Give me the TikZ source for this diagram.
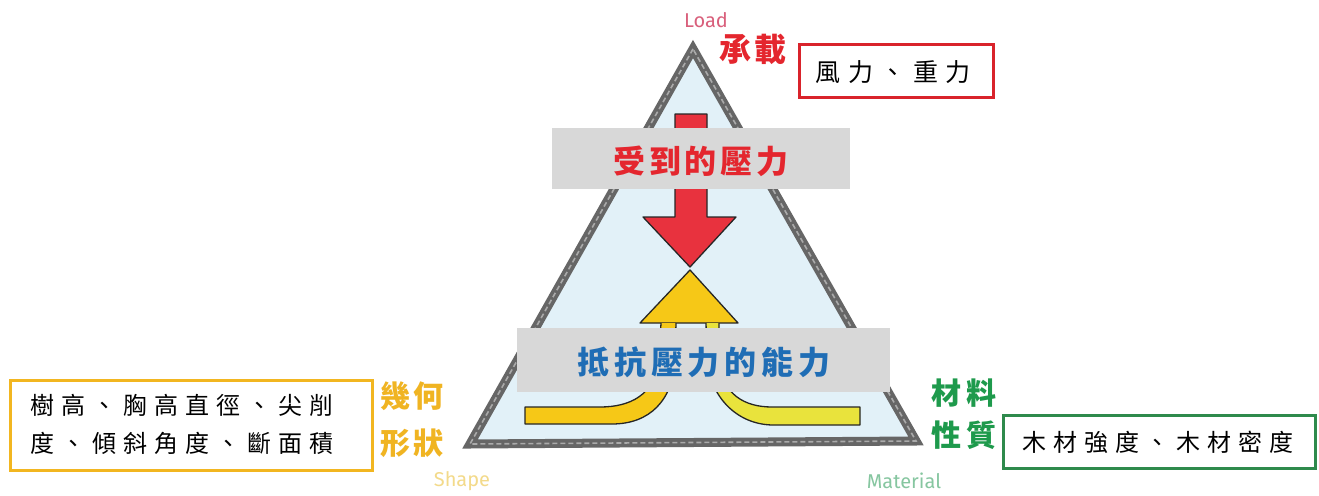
\documentclass[tikz,border=0pt]{standalone}
\usepackage{fontspec}
\newfontfamily\cjk{Noto Sans CJK TC}
\newfontfamily\latinsf{Fira Sans}
\definecolor{tribg}{HTML}{E2F1F8}
\definecolor{triedge}{HTML}{666666}
\definecolor{triedgelt}{HTML}{AAAAAA}
\definecolor{boxgray}{HTML}{D8D8D8}
\definecolor{lred}{HTML}{E4262E}
\definecolor{arrred}{HTML}{E8323E}
\definecolor{lblue}{HTML}{1F6DB5}
\definecolor{lyellow}{HTML}{F0B422}
\definecolor{lgreen}{HTML}{1E9A4C}
\definecolor{boxred}{HTML}{D9232B}
\definecolor{boxyellow}{HTML}{F2B620}
\definecolor{boxgreen}{HTML}{2E8A4C}
\definecolor{arryel}{HTML}{F6C817}
\definecolor{arryel2}{HTML}{E9E33C}
\definecolor{loadpink}{HTML}{D9607C}
\definecolor{shapeyel}{HTML}{F3DA8A}
\definecolor{matgreen}{HTML}{86C6A0}
\begin{document}
\begin{tikzpicture}[x=1pt,y=-1pt,
  graybox/.style={fill=boxgray,draw=none,inner sep=0pt},
  bigcjk/.style={font=\cjk\bfseries\fontsize{32}{36}\selectfont},
  sidecjk/.style={font=\cjk\bfseries\fontsize{30}{34}\selectfont},
  framebox/.style={fill=white,line width=3pt,inner sep=0pt},
  boxtext/.style={font=\cjk\fontsize{24}{38}\selectfont\addfontfeatures{LetterSpace=29},align=left},
  engl/.style={font=\latinsf\fontsize{20}{24}\selectfont},
  arrowline/.style={draw=black!85,line width=1.3pt,line join=round}]
\useasboundingbox (0,0) rectangle (1319,495);
\fill[white] (0,0) rectangle (1319,495);

% triangle
\coordinate (apex) at (693,49);
\coordinate (bl) at (470,444);
\coordinate (br) at (916,441);
\filldraw[fill=tribg,draw=triedge,line width=9pt,line join=miter] (apex) -- (bl) -- (br) -- cycle;
\draw[draw=triedgelt,line width=1.6pt,dash pattern=on 5pt off 3pt] (apex) -- (bl) -- (br) -- cycle;

% red arrow (down)
\filldraw[fill=arrred,arrowline] (675,114) -- (707,114) -- (707,217) -- (736,217) -- (690,267) -- (643,217) -- (675,217) -- cycle;

% yellow arrow (up)
\filldraw[fill=arryel,arrowline] (690,270) -- (738,323) -- (640,323) -- cycle;
\filldraw[fill=arryel,arrowline] (661,323) -- (659,360) .. controls (655,395) and (630,407) .. (600,407) -- (525,407) -- (525,424) -- (612,424) .. controls (650,424) and (673,400) .. (675,360) -- (676,323);
\filldraw[fill=arryel2,arrowline] (706,323) -- (707,360) .. controls (710,395) and (735,424) .. (772,425) -- (860,425) -- (860,407) -- (772,407) .. controls (745,407) and (722,395) .. (719,360) -- (719,323);

% gray boxes
\node[graybox,minimum width=298pt,minimum height=61pt] (topbox) at (701,158.5) {};
\node[bigcjk,text=lred,anchor=center] (toptext) at (701,161) {\addfontfeatures{LetterSpace=12}受到的壓力};
\node[graybox,minimum width=373pt,minimum height=64pt] (botbox) at (703.5,360) {};
\node[bigcjk,text=lblue,anchor=center] (bottext) at (704,362) {\addfontfeatures{LetterSpace=15}抵抗壓力的能力};

% top labels
\node[engl,text=loadpink] (load) at (706,20) {Load};
\node[bigcjk,text=lred] (chengzai) at (753,49) {\addfontfeatures{LetterSpace=10}承載};
\node[framebox,draw=boxred,minimum width=194pt,minimum height=52pt] (windbox) at (896,71) {};
\node[font=\cjk\fontsize{25}{30}\selectfont] (windtext) at (893,72) {\addfontfeatures{LetterSpace=30}風力、重力};

% left labels
\node[sidecjk,text=lyellow] (shape1) at (412,396) {\addfontfeatures{LetterSpace=7}幾何};
\node[sidecjk,text=lyellow] (shape2) at (412,443) {\addfontfeatures{LetterSpace=7}形狀};
\node[framebox,draw=boxyellow,minimum width=362pt,minimum height=90pt] (leftbox) at (191,425) {};
\node[boxtext] (lefttext) at (182,424) {樹高、胸高直徑、尖削\\度、傾斜角度、斷面積};
\node[engl,text=shapeyel] (shapeen) at (462,481) {Shape};

% right labels
\node[sidecjk,text=lgreen] (mat1) at (964,393) {\addfontfeatures{LetterSpace=17}材料};
\node[sidecjk,text=lgreen] (mat2) at (964,435) {\addfontfeatures{LetterSpace=17}性質};
\node[framebox,draw=boxgreen,minimum width=312pt,minimum height=53pt] (rightbox) at (1159,441.5) {};
\node[boxtext] (righttext) at (1158,442) {木材強度、木材密度};
\node[engl,text=matgreen] (maten) at (904,481) {Material};
\end{tikzpicture}
\end{document}
